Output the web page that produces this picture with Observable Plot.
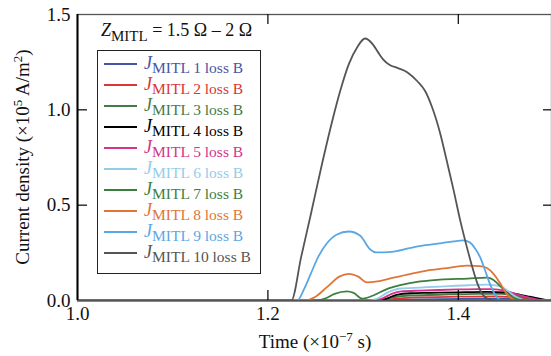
<!DOCTYPE html>
<html><head><meta charset="utf-8">
<script src="https://cdn.jsdelivr.net/npm/d3@7"></script>
<script src="https://cdn.jsdelivr.net/npm/@observablehq/plot@0.6"></script>
<style>
body{margin:0;background:#fff;}
#wrap{position:relative;width:551px;height:356px;font-family:"Liberation Serif","DejaVu Serif",serif;}
#wrap svg{position:absolute;left:0;top:0;}
.ov{position:absolute;white-space:nowrap;color:#111;}
</style></head>
<body><div id="wrap"></div>
<script>
// ---- data (time in 1e-7 s, current density in 1e5 A/m^2) ----
const seriesNames = ["1 loss B","2 loss B","3 loss B","4 loss B","5 loss B","6 loss B","7 loss B","8 loss B","9 loss B","10 loss B"];
const seriesColors = ["#4655a5","#d93636","#457a45","#000000","#d3338b","#93cde9","#3c7f3c","#e07538","#5aa7e6","#555555"];

const t1 = [1.0, 1.32, 1.34, 1.40, 1.45, 1.48, 1.50];
const j1 = [0, 0, 0.005, 0.008, 0.01, 0.005, 0];
const t2 = [1.0, 1.32, 1.335, 1.35, 1.40, 1.44, 1.46, 1.48, 1.50];
const j2 = [0, 0, 0.01, 0.015, 0.02, 0.022, 0.017, 0.008, 0];
const t3 = [1.0, 1.315, 1.33, 1.345, 1.38, 1.42, 1.445, 1.46, 1.475, 1.49, 1.5];
const j3 = [0, 0, 0.015, 0.025, 0.03, 0.035, 0.035, 0.025, 0.012, 0, 0];
const t4 = [1.0, 1.315, 1.325, 1.335, 1.35, 1.37, 1.40, 1.43, 1.45, 1.465, 1.475, 1.485, 1.495, 1.5];
const j4 = [0, 0, 0.01, 0.03, 0.038, 0.04, 0.043, 0.045, 0.042, 0.03, 0.02, 0.01, 0, 0];
const t5 = [1.0, 1.31, 1.32, 1.33, 1.34, 1.36, 1.38, 1.40, 1.42, 1.435, 1.45, 1.46, 1.47, 1.48, 1.49, 1.5];
const j5 = [0, 0, 0.01, 0.035, 0.048, 0.052, 0.055, 0.058, 0.06, 0.06, 0.05, 0.035, 0.02, 0.008, 0, 0];
const t6 = [1.0, 1.305, 1.315, 1.325, 1.339, 1.36, 1.381, 1.41, 1.43, 1.444, 1.452, 1.462, 1.472, 1.5];
const j6 = [0, 0, 0.01, 0.04, 0.063, 0.068, 0.073, 0.08, 0.083, 0.075, 0.05, 0.015, 0, 0];
const t7 = [1.0, 1.25, 1.26, 1.27, 1.283, 1.29, 1.299, 1.31, 1.325, 1.339, 1.36, 1.381, 1.41, 1.43, 1.437, 1.444, 1.45, 1.457, 1.465, 1.475, 1.5];
const j7 = [0, 0, 0.01, 0.035, 0.048, 0.04, 0.01, 0.025, 0.06, 0.08, 0.10, 0.11, 0.115, 0.12, 0.108, 0.075, 0.045, 0.015, 0.003, 0, 0];
const t8 = [1.0, 1.238, 1.25, 1.262, 1.275, 1.285, 1.295, 1.304, 1.315, 1.332, 1.35, 1.367, 1.385, 1.409, 1.423, 1.43, 1.437, 1.444, 1.45, 1.456, 1.462, 1.5];
const j8 = [0, 0, 0.02, 0.07, 0.125, 0.14, 0.125, 0.095, 0.10, 0.12, 0.14, 0.157, 0.168, 0.183, 0.18, 0.17, 0.14, 0.09, 0.04, 0.01, 0, 0];
const t9 = [1.0, 1.231, 1.238, 1.245, 1.253, 1.262, 1.272, 1.285, 1.297, 1.307, 1.314, 1.33, 1.349, 1.365, 1.381, 1.395, 1.405, 1.412, 1.418, 1.423, 1.428, 1.433, 1.44, 1.446, 1.5];
const j9 = [0, 0, 0.06, 0.14, 0.23, 0.30, 0.345, 0.362, 0.34, 0.27, 0.252, 0.255, 0.275, 0.29, 0.30, 0.31, 0.315, 0.305, 0.27, 0.226, 0.16, 0.09, 0.02, 0, 0];
const t10 = [1.0, 1.2246, 1.235, 1.245, 1.257, 1.267, 1.276, 1.285, 1.294, 1.302, 1.31, 1.316, 1.321, 1.328, 1.336, 1.347, 1.357, 1.365, 1.372, 1.381, 1.388, 1.395, 1.402, 1.409, 1.415, 1.42, 1.425, 1.431, 1.438, 1.5];
const j10 = [0, 0, 0.23, 0.45, 0.72, 0.93, 1.10, 1.24, 1.33, 1.374, 1.345, 1.30, 1.265, 1.235, 1.22, 1.195, 1.15, 1.10, 1.02, 0.876, 0.73, 0.58, 0.42, 0.28, 0.17, 0.09, 0.035, 0.008, 0, 0];

const xTicks = [1.0, 1.2, 1.4];
const yTicks = [0.0, 0.5, 1.0, 1.5];

const times = [t1,t2,t3,t4,t5,t6,t7,t8,t9,t10];
const vals = [j1,j2,j3,j4,j5,j6,j7,j8,j9,j10];
const rows = [];
times.forEach((ts, k) => ts.forEach((t, i) => rows.push({series: k, t, j: vals[k][i]})));

const W = 551, H = 356;
const xr = [77, 553], yr = [300, 14];
const tickLenX = 10 / (xr[1]-xr[0]) * 0.5;   // 10px in data units
const tickLenY = 10 / (yr[0]-yr[1]) * 1.5;

const lineMarks = d3.range(10).map(k =>
  Plot.line(rows.filter(r => r.series === k), {x: "t", y: "j", stroke: seriesColors[k], strokeWidth: 1.8, curve: "monotone-x", clip: true})
);

const chart = Plot.plot({
  width: W, height: H,
  marginLeft: 77, marginTop: 14, marginBottom: 56, marginRight: 0,
  x: {domain: [1.0, 1.5], range: xr},
  y: {domain: [0, 1.5], range: yr},
  style: {fontFamily: "'Liberation Serif', serif", fontSize: "19px", color: "#111", background: "white"},
  marks: [
    Plot.ruleY([0], {stroke: "#222", strokeWidth: 2}),
    ...lineMarks,
    Plot.frame({stroke: "#555", strokeWidth: 1.3}),
    Plot.ruleX([1.0], {stroke: "#000", strokeWidth: 2}),
    Plot.ruleX(xTicks.slice(1), {x: d => d, y1: 0, y2: tickLenY, stroke: "#000", strokeWidth: 1.2}),
    Plot.ruleX(xTicks.slice(1), {x: d => d, y1: 1.5, y2: 1.5 - tickLenY, stroke: "#000", strokeWidth: 1.2}),
    Plot.ruleY(yTicks.slice(1, 3), {y: d => d, x1: 1.0, x2: 1.0 + tickLenX, stroke: "#000", strokeWidth: 1.2}),
    Plot.ruleY(yTicks.slice(1, 3), {y: d => d, x1: 1.5, x2: 1.5 - tickLenX, stroke: "#000", strokeWidth: 1.2}),
    Plot.axisX(xTicks, {tickSize: 0, tickPadding: 6, tickFormat: d3.format(".1f"), label: null, fontSize: 19}),
    Plot.axisY(yTicks, {tickSize: 0, tickPadding: 7, tickFormat: d3.format(".1f"), label: null, fontSize: 19})
  ]
});
const wrap = document.getElementById("wrap");
wrap.appendChild(chart);

function ov(html, css) {
  const d = document.createElement("div");
  d.className = "ov";
  d.innerHTML = html;
  d.style.cssText += css;
  wrap.appendChild(d);
  return d;
}
// axis titles
ov('Time (×10<sup style="font-size:13px">−7</sup> s)', 'left:315px;top:329px;transform:translateX(-50%);font-size:19px;');
ov('Current density (×10<sup style="font-size:13px">5</sup> A/m<sup style="font-size:13px">2</sup>)',
   'left:22px;top:157px;transform:translate(-50%,-50%) rotate(-90deg);font-size:19px;');
// legend title
ov('<i style="font-size:18px">Z</i><span style="font-size:15px;position:relative;top:5px">MITL</span><span style="font-size:18px"> = 1.5 Ω – 2 Ω</span>',
   'left:101px;top:20px;line-height:20px;');
// legend box
ov('', 'left:97px;top:50px;width:162px;height:222px;border:1px solid #222;background:rgba(255,255,255,0.9);');
seriesNames.forEach((name, i) => {
  const y = 64 + 21 * i;
  ov('', `left:104px;top:${y - 1.2}px;width:33px;height:2.4px;background:${seriesColors[i]};`);
  ov(`<i style="font-size:18px">J</i><span style="font-size:15.5px;position:relative;top:4px">MITL ${name}</span>`,
     `left:144px;top:${y - 11}px;line-height:20px;color:${seriesColors[i]};`);
});
</script></body></html>
